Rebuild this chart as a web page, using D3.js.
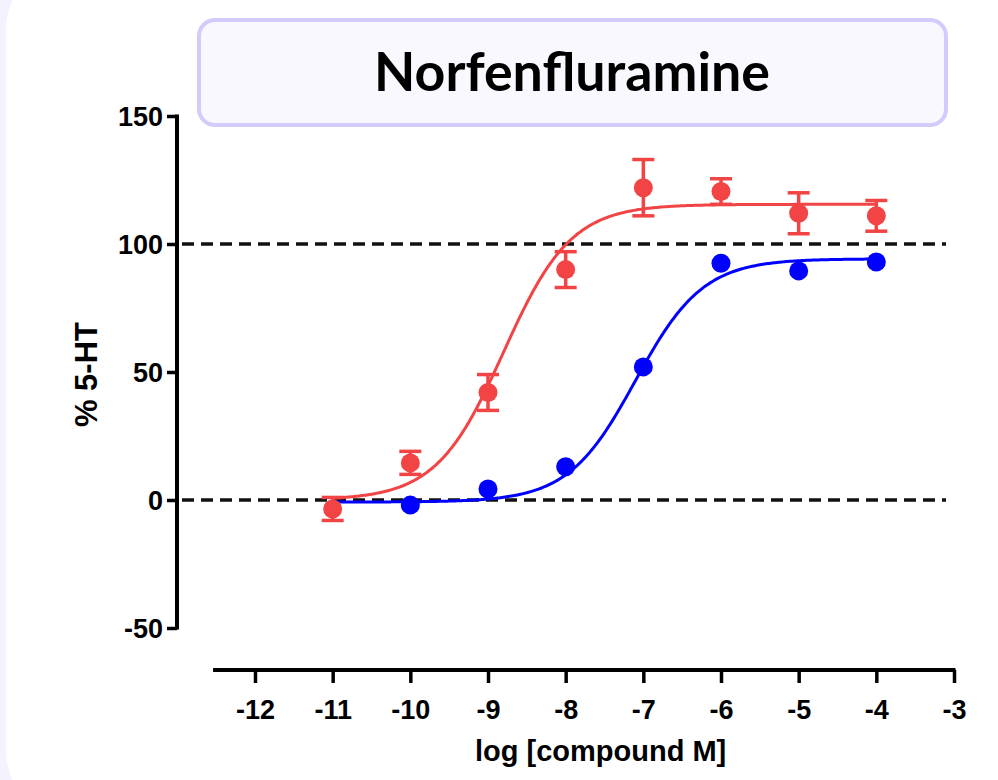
<!DOCTYPE html>
<html>
<head>
<meta charset="utf-8">
<script src="https://cdn.jsdelivr.net/npm/d3@7"></script>
<style>
  html, body { margin: 0; padding: 0; background: #f4f2fd; }
  svg { display: block; }
</style>
</head>
<body>
<svg id="chart" width="998" height="780"></svg>
<script>
// Concentrations (log M)
const logConc = [-11, -10, -9, -8, -7, -6, -5, -4];
// Response of the red series (% 5-HT) with SEM
const redMean = [-3.5, 14.5, 42, 90, 122, 120.5, 112, 111];
const redErr  = [4.5, 4.5, 7, 7, 11, 5, 8, 6];
// Response of the blue series (% 5-HT)
const blueConc = [-10, -9, -8, -7, -6, -5, -4];
const blueMean = [-2, 4.3, 13, 52, 92.5, 89.5, 93];
// Four-parameter logistic fits: [bottom, top, logEC50, hill]
const redFit  = [0, 115.5, -8.8, 1.0];
const blueFit = [-0.8, 94.2, -7.1, 1.0];
// Axis ticks
const xTicks = [-12, -11, -10, -9, -8, -7, -6, -5, -4, -3];
const yTicks = [-50, 0, 50, 100, 150];
const refLines = [0, 100];

const RED = "#f24444";
const BLUE = "#0000ff";

const svg = d3.select("#chart");

// Page panel
svg.append("rect")
  .attr("x", 6).attr("y", -40).attr("width", 1060).attr("height", 860)
  .attr("rx", 70).attr("fill", "#ffffff");

const x = d3.scaleLinear().domain([-12, -3]).range([255, 954]);
const y = d3.scaleLinear().domain([-50, 150]).range([628, 116]);

// Title box
svg.append("rect")
  .attr("x", 199).attr("y", 20).attr("width", 747).attr("height", 105)
  .attr("rx", 16)
  .attr("fill", "#f9f8ff").attr("stroke", "#d2cbfb").attr("stroke-width", 4);
svg.append("text")
  .attr("x", 572).attr("y", 91)
  .attr("text-anchor", "middle")
  .attr("font-family", "Lato, 'Noto Sans', sans-serif")
  .attr("font-weight", 700).attr("font-size", 54)
  .attr("textLength", 396).attr("lengthAdjust", "spacingAndGlyphs")
  .attr("fill", "#000")
  .text("Norfenfluramine");

const tickFont = "'Liberation Sans', Arial, sans-serif";
const plain = d => String(d);

// Y axis
const yAxis = d3.axisLeft(y).tickValues(yTicks).tickFormat(plain)
  .tickSize(10).tickPadding(4).tickSizeOuter(0);
const gy = svg.append("g").attr("transform", "translate(177,0)").call(yAxis);
gy.select(".domain").attr("stroke", "#000").attr("stroke-width", 4)
  .attr("d", `M0,${y(150) - 1.5}V${y(-50) + 1.5}`);
gy.selectAll(".tick line").attr("stroke", "#000").attr("stroke-width", 3.5);
gy.selectAll(".tick text")
  .attr("font-family", tickFont).attr("font-weight", 700).attr("font-size", 27)
  .attr("fill", "#000").attr("dy", "0.34em");

// X axis
const xAxis = d3.axisBottom(x).tickValues(xTicks).tickFormat(plain)
  .tickSize(13).tickPadding(14).tickSizeOuter(0);
const gx = svg.append("g").attr("transform", "translate(0,670)").call(xAxis);
gx.select(".domain").attr("stroke", "#000").attr("stroke-width", 4)
  .attr("d", `M${x(-12.54)},0H${x(-3) + 1.5}`);
gx.selectAll(".tick line").attr("stroke", "#000").attr("stroke-width", 3.5);
gx.selectAll(".tick text")
  .attr("font-family", tickFont).attr("font-weight", 700).attr("font-size", 27)
  .attr("fill", "#000").attr("dy", "0.8em");

// Axis titles
svg.append("text")
  .attr("x", x(-7.55)).attr("y", 761)
  .attr("text-anchor", "middle")
  .attr("font-family", tickFont).attr("font-weight", 700).attr("font-size", 29)
  .text("log [compound M]");
svg.append("text")
  .attr("transform", `translate(97,${y(49)}) rotate(-90)`)
  .attr("text-anchor", "middle")
  .attr("font-family", tickFont).attr("font-weight", 700).attr("font-size", 31)
  .text("% 5-HT");

// Dashed reference lines
svg.append("g").selectAll("line").data(refLines).join("line")
  .attr("x1", 182).attr("x2", 946)
  .attr("y1", d => y(d)).attr("y2", d => y(d))
  .attr("stroke", "#111").attr("stroke-width", 3.5)
  .attr("stroke-dasharray", "12 7");

// Fitted curves
function logistic(p) {
  const [bottom, top, ec50, hill] = p;
  return lx => bottom + (top - bottom) / (1 + Math.pow(10, (ec50 - lx) * hill));
}
const curveX = d3.range(-11, -3.999, 0.02);
const line = d3.line().x(d => x(d[0])).y(d => y(d[1])).curve(d3.curveLinear);

function drawCurve(p, color) {
  const f = logistic(p);
  svg.append("path")
    .datum(curveX.map(v => [v, f(v)]))
    .attr("d", line)
    .attr("fill", "none").attr("stroke", color).attr("stroke-width", 3);
}
drawCurve(redFit, RED);
drawCurve(blueFit, BLUE);

// Blue points
svg.append("g").selectAll("circle").data(blueConc).join("circle")
  .attr("cx", d => x(d))
  .attr("cy", (d, i) => y(blueMean[i]))
  .attr("r", 9.5).attr("fill", BLUE);

// Red error bars and points
const redData = logConc.map((c, i) => ({ c, m: redMean[i], e: redErr[i] }));
const eb = svg.append("g").attr("stroke", RED).attr("stroke-width", 3.5);
redData.forEach(d => {
  const cx = x(d.c), y1 = y(d.m + d.e), y2 = y(d.m - d.e);
  eb.append("line").attr("x1", cx).attr("x2", cx).attr("y1", y1).attr("y2", y2);
  eb.append("line").attr("x1", cx - 11).attr("x2", cx + 11).attr("y1", y1).attr("y2", y1);
  eb.append("line").attr("x1", cx - 11).attr("x2", cx + 11).attr("y1", y2).attr("y2", y2);
});
svg.append("g").selectAll("circle").data(redData).join("circle")
  .attr("cx", d => x(d.c))
  .attr("cy", d => y(d.m))
  .attr("r", 9.5).attr("fill", RED);
</script>
</body>
</html>
